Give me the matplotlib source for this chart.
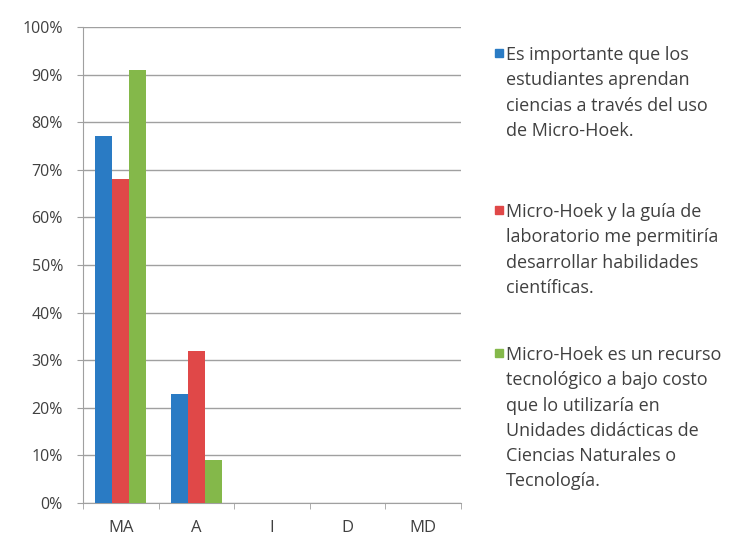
import numpy as np
import matplotlib.pyplot as plt
from matplotlib.patches import Rectangle

# Data
categories = ["MA", "A", "I", "D", "MD"]
importante = [77, 23, 0, 0, 0]
guia = [68, 32, 0, 0, 0]
recurso = [91, 9, 0, 0, 0]

labels = [
    "Es importante que los\nestudiantes aprendan\nciencias a través del uso\nde Micro-Hoek.",
    "Micro-Hoek y la guía de\nlaboratorio me permitiría\ndesarrollar habilidades\ncientíficas.",
    "Micro-Hoek es un recurso\ntecnológico a bajo costo\nque lo utilizaría en\nUnidades didácticas de\nCiencias Naturales o\nTecnología.",
]
colors = ["#2a7bc4", "#e04848", "#84b84a"]

plt.rcParams['font.family'] = ['Open Sans', 'DejaVu Sans']

fig = plt.figure(figsize=(7.29, 5.38), dpi=100)
ax = fig.add_axes([0.1139, 0.0651, 0.5178, 0.8847])

x = np.arange(len(categories)) + 0.5
w = 0.224
for i, vals in enumerate([importante, guia, recurso]):
    ax.bar(x + (i - 1) * w, vals, width=w, color=colors[i], zorder=3)

ax.set_xlim(0, 5)
ax.set_ylim(0, 100)
ax.set_yticks(range(0, 101, 10))
ax.set_yticklabels([f"{v}%" for v in range(0, 101, 10)])
ax.set_xticks(x)
ax.set_xticklabels(categories)
ax.set_xticks(range(0, 6), minor=True)

grid_c = "#a0a0a0"
ax.yaxis.grid(True, color=grid_c, lw=1, zorder=0)
for s in ["top", "right"]:
    ax.spines[s].set_visible(False)
for s in ["left", "bottom"]:
    ax.spines[s].set_color(grid_c)
ax.tick_params(axis="y", length=4.5, color=grid_c, labelsize=11.5, labelcolor="#404040", pad=10)
ax.tick_params(axis="x", which="major", length=0, labelsize=12, labelcolor="#404040", pad=12)
ax.tick_params(axis="x", which="minor", length=4.5, color=grid_c)

# Legend
W, H = 729, 538
legend_y = [53, 210, 353]
for lab, c, yy in zip(labels, colors, legend_y):
    fig.patches.append(Rectangle((495 / W, 1 - (yy + 4) / H), 8 / W, 8 / H,
                                 transform=fig.transFigure, color=c))
    fig.text(506 / W, 1 - (yy - 7) / H, lab, fontsize=13, color="#404040",
             va="top", ha="left", linespacing=1.52)

fig.savefig("out.png", dpi=100)
